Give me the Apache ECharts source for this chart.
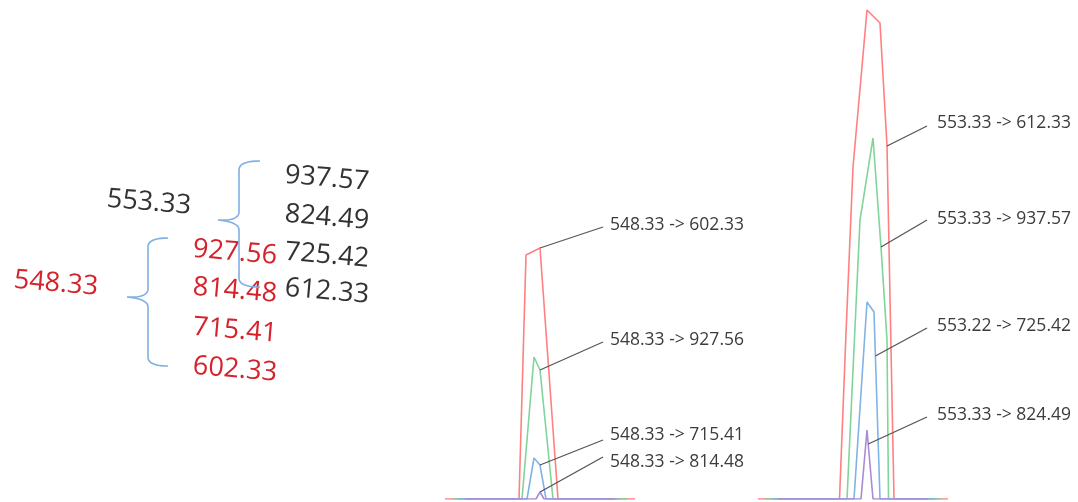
<!DOCTYPE html>
<html>
<head>
<meta charset="utf-8">
<script src="https://cdn.jsdelivr.net/npm/echarts@6/dist/echarts.min.js"></script>
<style>
  html, body { margin: 0; padding: 0; background: #fff; }
  #chart { width: 1078px; height: 502px; }
</style>
</head>
<body>
<div id="chart"></div>
<script>
// Precursor ions and their fragment ions
const precursorA = '553.33';
const fragmentsA = ['937.57', '824.49', '725.42', '612.33'];
const precursorB = '548.33';
const fragmentsB = ['927.56', '814.48', '715.41', '602.33'];

// MRM traces, [retention time (min), intensity] — precursor 548.33
const redB = [[7.50, 0], [8.24, 0], [8.31, 244], [8.45, 251], [8.63, 0], [9.40, 0]];
const greenB = [[7.57, 0], [8.27, 0], [8.39, 142], [8.45, 129], [8.58, 0], [9.32, 0]];
const blueB = [[7.63, 0], [8.32, 0], [8.39, 41], [8.45, 34], [8.51, 0], [9.25, 0]];
const purpleB = [[7.70, 0], [8.41, 0], [8.45, 7], [8.49, 0], [9.20, 0]];

// MRM traces — precursor 553.33
const redA = [[8.00, 0], [8.815, 0], [8.88, 166], [8.95, 332], [9.02, 410], [9.09, 489], [9.22, 476], [9.29, 353], [9.36, 0], [9.90, 0]];
const greenA = [[8.07, 0], [8.89, 0], [9.02, 279], [9.15, 361], [9.23, 252], [9.29, 159], [9.305, 0], [9.83, 0]];
const blueA = [[8.14, 0], [8.96, 0], [9.09, 197], [9.16, 187], [9.174, 143], [9.22, 0], [9.77, 0]];
const purpleA = [[8.20, 0], [9.03, 0], [9.09, 69], [9.102, 55], [9.15, 0], [9.70, 0]];

// Transition names, in trace order red, green, blue, purple
const transitionsB = ['548.33 -> 602.33', '548.33 -> 927.56', '548.33 -> 715.41', '548.33 -> 814.48'];
const transitionsA = ['553.33 -> 612.33', '553.33 -> 937.57', '553.22 -> 725.42', '553.33 -> 824.49'];

// Index of the point on each trace where its callout starts
const anchorsB = [3, 3, 3, 2];
const anchorsA = [7, 4, 4, 3];

// Time ranges of the two panels
const timeRangeB = [7.50, 9.40];
const timeRangeA = [8.00, 9.90];
const intensityMax = 490;

const traceColors = ['#ff8080', '#80d49c', '#80b3e6', '#a98cd6'];

const chart = echarts.init(document.getElementById('chart'), null, { renderer: 'canvas' });

const panels = [
  { traces: [redB, greenB, blueB, purpleB], names: transitionsB, anchors: anchorsB, range: timeRangeB,
    left: 445, labelX: 610, leaderX: 603, labelY: [225, 340, 435, 462], leaderY: [227, 342, 440, 457] },
  { traces: [redA, greenA, blueA, purpleA], names: transitionsA, anchors: anchorsA, range: timeRangeA,
    left: 758, labelX: 937, leaderX: 927, labelY: [123, 219, 326, 415], leaderY: [126, 220, 328, 417] }
];

const grids = [], xAxes = [], yAxes = [], series = [];
panels.forEach((p, g) => {
  grids.push({ left: p.left, width: 190, top: 9, bottom: 3, containLabel: false });
  xAxes.push({ type: 'value', gridIndex: g, min: p.range[0], max: p.range[1], show: false });
  yAxes.push({ type: 'value', gridIndex: g, min: 0, max: intensityMax, show: false });
  p.traces.forEach((data, i) => {
    series.push({
      type: 'line', xAxisIndex: g, yAxisIndex: g, data: data,
      symbol: 'none', showSymbol: false, silent: true,
      lineStyle: { color: traceColors[i], width: 1.6 },
      z: 2 + i
    });
  });
});

chart.setOption({
  animation: false,
  backgroundColor: '#ffffff',
  grid: grids, xAxis: xAxes, yAxis: yAxes, series: series
});

// Curly brace drawn as a polyline, opening to the right with its tip on the left
function quad(p0, c, p1, out) {
  for (let k = 1; k <= 10; k++) {
    const t = k / 10, u = 1 - t;
    out.push([u * u * p0[0] + 2 * u * t * c[0] + t * t * p1[0], u * u * p0[1] + 2 * u * t * c[1] + t * t * p1[1]]);
  }
}
function brace(x, top, mid, bottom, armX, tipX) {
  const r = 9, pts = [[armX, top]];
  quad([armX, top], [x, top], [x, top + r], pts);
  pts.push([x, mid - r]);
  quad([x, mid - r], [x, mid], [tipX, mid - 1], pts);
  quad([tipX, mid - 1], [x, mid + 1], [x, mid + r], pts);
  pts.push([x, bottom - r]);
  quad([x, bottom - r], [x, bottom], [armX, bottom], pts);
  return { type: 'polyline', shape: { points: pts }, style: { stroke: '#7eb0e2', lineWidth: 1.6, fill: null }, silent: true };
}

function tiltedText(txt, x, y, color) {
  return {
    type: 'text', x: x, y: y, rotation: -0.085, silent: true,
    style: { text: txt, x: 0, y: 0, font: '27px "Open Sans"', fill: color,
      align: 'left', verticalAlign: 'middle', textAlign: 'left', textVerticalAlign: 'middle' }
  };
}

const graphics = [];
const inkDark = '#333333', inkRed = '#d4232b';
graphics.push(tiltedText(precursorA, 107, 199, inkDark));
graphics.push(tiltedText(precursorB, 14, 280, inkRed));
[175, 214, 252, 288].forEach((y, i) => graphics.push(tiltedText(fragmentsA[i], 285, y, inkDark)));
[249, 287, 327, 366].forEach((y, i) => graphics.push(tiltedText(fragmentsB[i], 193, y, inkRed)));
graphics.push(brace(239, 161, 221, 287, 260, 218));
graphics.push(brace(148, 238, 298, 366, 168, 127));

// Callouts from each trace to its transition name
panels.forEach((p, g) => {
  p.traces.forEach((data, i) => {
    const pt = chart.convertToPixel({ xAxisIndex: g, yAxisIndex: g }, data[p.anchors[i]]);
    graphics.push({
      type: 'line', silent: true, z: 10,
      shape: { x1: pt[0], y1: pt[1], x2: p.leaderX, y2: p.leaderY[i] },
      style: { stroke: '#555555', lineWidth: 1.3 }
    });
    graphics.push({
      type: 'text', silent: true, x: p.labelX, y: p.labelY[i],
      style: { text: p.names[i], x: 0, y: 0, font: '17.5px "Open Sans"', fill: '#3c3c3c',
        align: 'left', verticalAlign: 'middle', textAlign: 'left', textVerticalAlign: 'middle' }
    });
  });
});

chart.setOption({ graphic: graphics });
</script>
</body>
</html>
